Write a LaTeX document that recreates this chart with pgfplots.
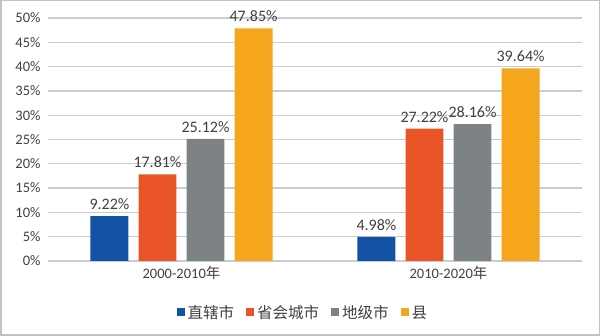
\documentclass[border=0pt]{standalone}
\usepackage{pgfplots}
\pgfplotsset{compat=1.18}
\usepackage{fontspec}
\setmainfont{Carlito}
\newfontfamily\cjk{Noto Sans CJK SC}
\definecolor{cBlue}{RGB}{17,82,165}
\definecolor{cRed}{RGB}{232,84,38}
\definecolor{cGray}{RGB}{125,130,133}
\definecolor{cYellow}{RGB}{245,166,28}
\definecolor{cGrid}{RGB}{200,205,210}
\definecolor{cText}{RGB}{64,64,64}
\definecolor{cFrame}{RGB}{190,195,200}
\begin{document}
\begin{tikzpicture}
\path (0,0) rectangle (600pt,336pt);
\draw[cFrame,line width=1.5pt] (0.75pt,0.75pt) rectangle (599.25pt,335.25pt);
\begin{axis}[
  at={(48pt,75pt)}, anchor=south west,
  scale only axis, width=534pt, height=243pt,
  xmin=-0.5, xmax=1.5, ymin=0, ymax=50,
  ybar, bar width=0.142,
  axis line style={draw=none},
  ytick={0,5,...,50},
  xtick={0,1},
  xticklabels={2000-2010{\cjk 年},2010-2020{\cjk 年}},
  major tick length=0pt,
  ymajorgrids, grid style={cGrid,line width=1.3pt},
  yticklabel={\pgfmathprintnumber[assume math mode=true]{\tick}\%},
  tick label style={font=\fontsize{14.5}{15}\selectfont, text=cText},
  yticklabel style={xshift=-4pt},
  xticklabel style={yshift=-2pt},
  nodes near coords={\pgfmathprintnumber[fixed,precision=2,fixed zerofill,assume math mode=true]{\pgfplotspointmeta}\%},
  nodes near coords style={font=\fontsize{16}{17}\selectfont, text=cText, yshift=3pt},
  legend style={at={(0.4775,-0.214)}, anchor=center, draw=none, legend columns=4,
    font=\cjk\fontsize{15.5}{16}\selectfont, text=cText,
    /tikz/every odd column/.append style={column sep=1pt},
    /tikz/every even column/.append style={column sep=10pt}},
  legend image code/.code={\fill[#1] (0pt,-3pt) rectangle (8pt,5pt);},
  clip=false,
]
\addplot[fill=cBlue, draw=none, bar shift=-0.27] coordinates {(0,9.22) (1,4.98)};
\addplot[fill=cRed, draw=none, bar shift=-0.09] coordinates {(0,17.81) (1,27.22)};
\addplot[fill=cGray, draw=none, bar shift=0.09] coordinates {(0,25.12) (1,28.16)};
\addplot[fill=cYellow, draw=none, bar shift=0.27] coordinates {(0,47.85) (1,39.64)};
\legend{直辖市,省会城市,地级市,县}
\end{axis}
\end{tikzpicture}
\end{document}
